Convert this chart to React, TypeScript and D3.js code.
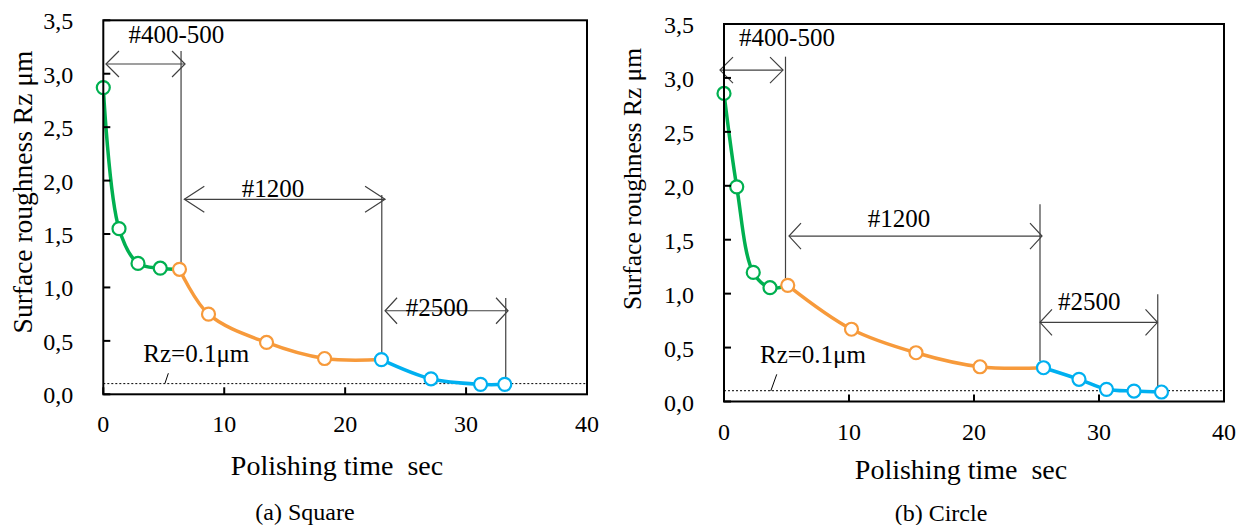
import React from 'react';
import * as d3 from 'd3';

// axis ticks shared by both panels
const yTicks = [0, 0.5, 1, 1.5, 2, 2.5, 3, 3.5];
const xTicks = [0, 10, 20, 30, 40];

// (a) Square
const squareTime = [0, 1.3, 2.87, 4.71, 6.3, 8.7, 13.5, 18.3, 23.0, 27.1, 31.2, 33.2];
const squareRz = [2.87, 1.55, 1.225, 1.18, 1.17, 0.75, 0.485, 0.335, 0.325, 0.145, 0.093, 0.093];
const squareStage = [0, 0, 0, 0, 1, 1, 1, 1, 2, 2, 2, 2];

// (b) Circle
const circleTime = [0, 1.02, 2.34, 3.68, 5.1, 10.2, 15.36, 20.48, 25.56, 28.4, 30.6, 32.8, 35.0];
const circleRz = [2.856, 1.99, 1.197, 1.055, 1.077, 0.67, 0.452, 0.322, 0.313, 0.206, 0.113, 0.097, 0.088];
const circleStage = [0, 0, 0, 0, 1, 1, 1, 1, 2, 2, 2, 2, 2];

const stageColors = ['#00b050', '#f79a3b', '#00b0f0'];
const stageLabels = ['#400-500', '#1200', '#2500'];

// arrow annotations in data units: [x1, x2, y, labelX, labelY, lineX, lineTop, lineBottom]
const squareArrows = [
  [0.22, 6.76, 3.091, 6.05, 3.29, 6.43, 3.213, 1.22],
  [6.7, 23.3, 1.825, 14.04, 1.85, 23.03, 1.865, 0.38],
  [23.3, 33.47, 0.782, 27.6, 0.733, 33.28, 0.901, 0.15],
];
const circleArrows = [
  [-0.32, 4.72, 3.073, 5.04, 3.296, 4.92, 3.197, 1.14],
  [5.2, 25.44, 1.534, 14.0, 1.62, 25.28, 1.828, 0.375],
  [25.28, 34.68, 0.734, 29.22, 0.848, 34.7, 0.994, 0.144],
];
// Rz=0.1 note: [textX, textY, leaderX1, leaderY1, leaderX2, leaderY2]
const squareNote = [3.31, 0.305, 5.1, 0.103, 5.38, 0.197];
const circleNote = [2.88, 0.36, 3.74, 0.097, 4.22, 0.252];
const rzLimit = 0.1;

const FONT = 'Liberation Serif, DejaVu Serif, serif';
const fmt = (v: number) => v.toFixed(1).replace('.', ',');

type Frame = { left: number; right: number; top: number; bottom: number };

function Panel(props: {
  frame: Frame;
  time: number[];
  rz: number[];
  stage: number[];
  arrows: number[][];
  heads: number[];
  note: number[];
  yTitle: [number, number, number];
  xTitle: [number, number];
  caption: [number, number, string];
}) {
  const { frame, time, rz, stage, arrows, heads, note, yTitle, xTitle, caption } = props;
  const x = d3.scaleLinear().domain([0, 40]).range([frame.left, frame.right]);
  const y = d3.scaleLinear().domain([0, 3.5]).range([frame.bottom, frame.top]);
  const line = d3
    .line<number>()
    .x(i => x(time[i]))
    .y(i => y(rz[i]))
    .curve(d3.curveCatmullRom.alpha(0.5));

  const idx = time.map((_, i) => i);
  const segments = stageColors.map((c, s) => {
    const pts = idx.filter(i => stage[i] === s);
    const next = idx.find(i => stage[i] === s + 1);
    if (next !== undefined) pts.push(next);
    return { color: c, pts };
  });

  const arrowHead = (tx: number, ty: number, dir: number, len: number) =>
    `M${tx + dir * len},${ty - 13}L${tx},${ty}L${tx + dir * len},${ty + 13}`;

  return (
    <g style={{ fontFamily: FONT }}>
      {/* Rz = 0.1 limit */}
      <line x1={frame.left} x2={frame.right} y1={y(rzLimit)} y2={y(rzLimit)} stroke="#000" strokeWidth={1} strokeDasharray="2,2" />
      <text x={x(note[0])} y={y(note[1])} fontSize={25}>Rz=0.1μm</text>
      <line x1={x(note[2])} y1={y(note[3])} x2={x(note[4])} y2={y(note[5])} stroke="#000" strokeWidth={1} />

      {/* stage annotations */}
      {arrows.map((a, k) => (
        <g key={k} stroke="#404040" strokeWidth={1.2} fill="none">
          <line x1={x(a[5])} x2={x(a[5])} y1={y(a[6])} y2={y(a[7])} />
          <line x1={x(a[0])} x2={x(a[1])} y1={y(a[2])} y2={y(a[2])} />
          <path d={arrowHead(x(a[0]), y(a[2]), 1, heads[k])} />
          <path d={arrowHead(x(a[1]), y(a[2]), -1, heads[k])} />
          <text x={x(a[3])} y={y(a[4])} fontSize={25} textAnchor="middle" fill="#000" stroke="none">
            {stageLabels[k]}
          </text>
        </g>
      ))}

      {/* data lines */}
      {segments.map((s, k) => (
        <path key={k} d={line(s.pts) || ''} fill="none" stroke={s.color} strokeWidth={3.5} />
      ))}
      {idx.map(i => (
        <circle key={i} cx={x(time[i])} cy={y(rz[i])} r={6.5} fill="#fff" stroke={stageColors[stage[i]]} strokeWidth={2.2} />
      ))}

      {/* frame and ticks */}
      <rect x={frame.left} y={frame.top} width={frame.right - frame.left} height={frame.bottom - frame.top} fill="none" stroke="#000" strokeWidth={2} />
      {yTicks.map(t => (
        <g key={t}>
          <line x1={frame.left} x2={frame.left + 7} y1={y(t)} y2={y(t)} stroke="#000" strokeWidth={2} />
          <text x={frame.left - 30} y={y(t) + 9} fontSize={24} textAnchor="end">{fmt(t)}</text>
        </g>
      ))}
      {xTicks.map(t => (
        <g key={t}>
          <line x1={x(t)} x2={x(t)} y1={frame.bottom} y2={frame.bottom - 7} stroke="#000" strokeWidth={2} />
          <text x={x(t)} y={frame.bottom + 38} fontSize={24} textAnchor="middle">{t}</text>
        </g>
      ))}

      <text transform={`translate(${yTitle[0]},${yTitle[1]}) rotate(-90)`} fontSize={yTitle[2]} textAnchor="middle" dominantBaseline="central">
        Surface roughness Rz μm
      </text>
      <text x={xTitle[0]} y={xTitle[1]} fontSize={28} textAnchor="middle" style={{ whiteSpace: 'pre' }}>
        {'Polishing time  sec'}
      </text>
      <text x={caption[0]} y={caption[1]} fontSize={24} textAnchor="middle">{caption[2]}</text>
    </g>
  );
}

export default function App() {
  return (
    <svg width={1246} height={525} style={{ position: 'absolute', left: 0, top: 0, background: '#fff' }}>
      <rect width={1246} height={525} fill="#fff" />
      <Panel
        frame={{ left: 103.3, right: 587, top: 20.3, bottom: 394.3 }}
        time={squareTime}
        rz={squareRz}
        stage={squareStage}
        arrows={squareArrows}
        heads={[13, 20, 12]}
        note={squareNote}
        yTitle={[22, 192, 27.5]}
        xTitle={[337, 475]}
        caption={[305, 520, '(a) Square']}
      />
      <Panel
        frame={{ left: 724, right: 1224, top: 24, bottom: 401.5 }}
        time={circleTime}
        rz={circleRz}
        stage={circleStage}
        arrows={circleArrows}
        heads={[13, 12, 12]}
        note={circleNote}
        yTitle={[632, 179, 25.5]}
        xTitle={[961, 479]}
        caption={[941, 521, '(b) Circle']}
      />
    </svg>
  );
}
